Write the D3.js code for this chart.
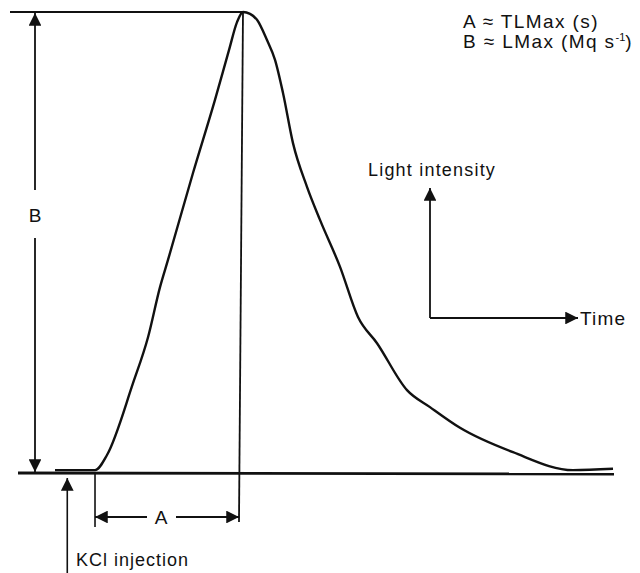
<!DOCTYPE html>
<html><head><meta charset="utf-8">
<script src="https://cdn.jsdelivr.net/npm/d3@7"></script>
<style>
html,body{margin:0;padding:0;background:#fff;}
svg text{font-family:"Liberation Sans",Arial,Helvetica,sans-serif;fill:#111;}
</style></head>
<body>
<svg id="chart" width="640" height="573"></svg>
<script>
// Schematic light-emission curve (arbitrary units: time 0-100, intensity 0-100)
const curveTime = [0, 7.17, 9.32, 13.98, 16.67, 18.82, 20.25, 24.73, 28.67, 31.18, 32.62, 33.69, 34.95, 36.2, 37.99, 39.43, 40.86, 42.65, 45.16, 47.49, 51.08, 54.3, 57.71, 63.08, 67.2, 72.58, 82.08, 92.83, 100];
const curveIntensity = [0.4, 0.4, 3.7, 19.3, 29.3, 40.2, 46.1, 65.0, 80.9, 91.7, 97.8, 100, 99.6, 98.3, 93.9, 89.6, 82.4, 71.5, 62.0, 54.8, 44.6, 33.7, 28.0, 17.8, 14.1, 9.6, 4.3, 0.4, 0.7];
const injectionTime = 2.2;   // KCl injection
const onsetTime = 7.17;      // start of light response
const peakTime = 33.69;      // TLMax
const peakIntensity = 100;   // LMax
const legendLines = ["A \u2248 TLMax (s)", "B \u2248 LMax (Mq s"];
const axisLabels = ["Light intensity", "Time"];
const markLabels = ["A", "B", "KCl injection"];

const svg = d3.select("#chart");
const x = d3.scaleLinear().domain([0, 100]).range([55, 613]);
const y = d3.scaleLinear().domain([0, 100]).range([472, 12]);

const defs = svg.append("defs");
function marker(id, size) {
  defs.append("marker").attr("id", id).attr("viewBox", "0 0 10 10")
    .attr("refX", 10).attr("refY", 5).attr("markerUnits", "userSpaceOnUse")
    .attr("markerWidth", size).attr("markerHeight", size * 0.85).attr("orient", "auto-start-reverse")
    .append("path").attr("d", "M0,0L10,5L0,10Z").attr("fill", "#111");
}
marker("ah", 15);

const ink = "#111";
// baseline (time axis of the trace)
svg.append("line").attr("x1", 18).attr("x2", 614).attr("y1", y(0) + 1).attr("y2", y(0) + 2)
  .attr("stroke", ink).attr("stroke-width", 2.8);
// top reference line at the maximum
svg.append("line").attr("x1", 10).attr("x2", x(peakTime)).attr("y1", y(peakIntensity)).attr("y2", y(peakIntensity))
  .attr("stroke", ink).attr("stroke-width", 1.8);
// vertical line at the peak
svg.append("line").attr("x1", x(peakTime)).attr("x2", x(peakTime) - 4).attr("y1", y(peakIntensity)).attr("y2", 522)
  .attr("stroke", ink).attr("stroke-width", 1.8);
// vertical tick at onset
svg.append("line").attr("x1", x(onsetTime)).attr("x2", x(onsetTime)).attr("y1", y(0)).attr("y2", 527)
  .attr("stroke", ink).attr("stroke-width", 1.6);

// curve
const pts = curveTime.map((t, i) => [t, curveIntensity[i]]);
svg.append("path").datum(pts)
  .attr("d", d3.line().x(d => x(d[0])).y(d => y(d[1])).curve(d3.curveMonotoneX))
  .attr("fill", "none").attr("stroke", ink).attr("stroke-width", 2.4).attr("stroke-linejoin", "round");

// B dimension arrow
const bx = 35;
svg.append("line").attr("x1", bx).attr("x2", bx).attr("y1", 190).attr("y2", y(peakIntensity) + 1)
  .attr("stroke", ink).attr("stroke-width", 1.8).attr("marker-end", "url(#ah)");
svg.append("line").attr("x1", bx).attr("x2", bx).attr("y1", 238).attr("y2", y(0))
  .attr("stroke", ink).attr("stroke-width", 1.8).attr("marker-end", "url(#ah)");
svg.append("text").attr("x", bx).attr("y", 222).attr("text-anchor", "middle")
  .attr("font-size", 19).text(markLabels[1]);

// A dimension arrow
const ay = 517;
svg.append("line").attr("x1", 147).attr("x2", x(onsetTime)).attr("y1", ay).attr("y2", ay)
  .attr("stroke", ink).attr("stroke-width", 1.8).attr("marker-end", "url(#ah)");
svg.append("line").attr("x1", 176).attr("x2", x(peakTime) - 4).attr("y1", ay).attr("y2", ay)
  .attr("stroke", ink).attr("stroke-width", 1.8).attr("marker-end", "url(#ah)");
svg.append("text").attr("x", 161).attr("y", ay + 7).attr("text-anchor", "middle")
  .attr("font-size", 19).text(markLabels[0]);

// KCl injection arrow
svg.append("line").attr("x1", x(injectionTime)).attr("x2", x(injectionTime)).attr("y1", 573).attr("y2", y(0) + 6)
  .attr("stroke", ink).attr("stroke-width", 1.6).attr("marker-end", "url(#ah)");
svg.append("text").attr("x", 76).attr("y", 566).attr("font-size", 18).attr("letter-spacing", 1.0)
  .text(markLabels[2]);

// legend
const lg = svg.append("g").attr("font-size", 19).attr("letter-spacing", 1.4);
lg.append("text").attr("x", 463).attr("y", 28).text(legendLines[0]);
const t2 = lg.append("text").attr("x", 463).attr("y", 48).text(legendLines[1]);
t2.append("tspan").attr("dy", -7).attr("font-size", 11).attr("letter-spacing", 0).text("-1");
t2.append("tspan").attr("dy", 7).text(")");

// small axes key
const kx = 430, ky = 318;
svg.append("line").attr("x1", kx).attr("x2", kx).attr("y1", ky).attr("y2", 188)
  .attr("stroke", ink).attr("stroke-width", 1.8).attr("marker-end", "url(#ah)");
svg.append("line").attr("x1", kx).attr("x2", 578).attr("y1", ky).attr("y2", ky)
  .attr("stroke", ink).attr("stroke-width", 1.8).attr("marker-end", "url(#ah)");
svg.append("text").attr("x", 368).attr("y", 176).attr("font-size", 18).attr("letter-spacing", 1.2)
  .text(axisLabels[0]);
svg.append("text").attr("x", 580).attr("y", 325).attr("font-size", 19).attr("letter-spacing", 1.2)
  .text(axisLabels[1]);
</script>
</body></html>
